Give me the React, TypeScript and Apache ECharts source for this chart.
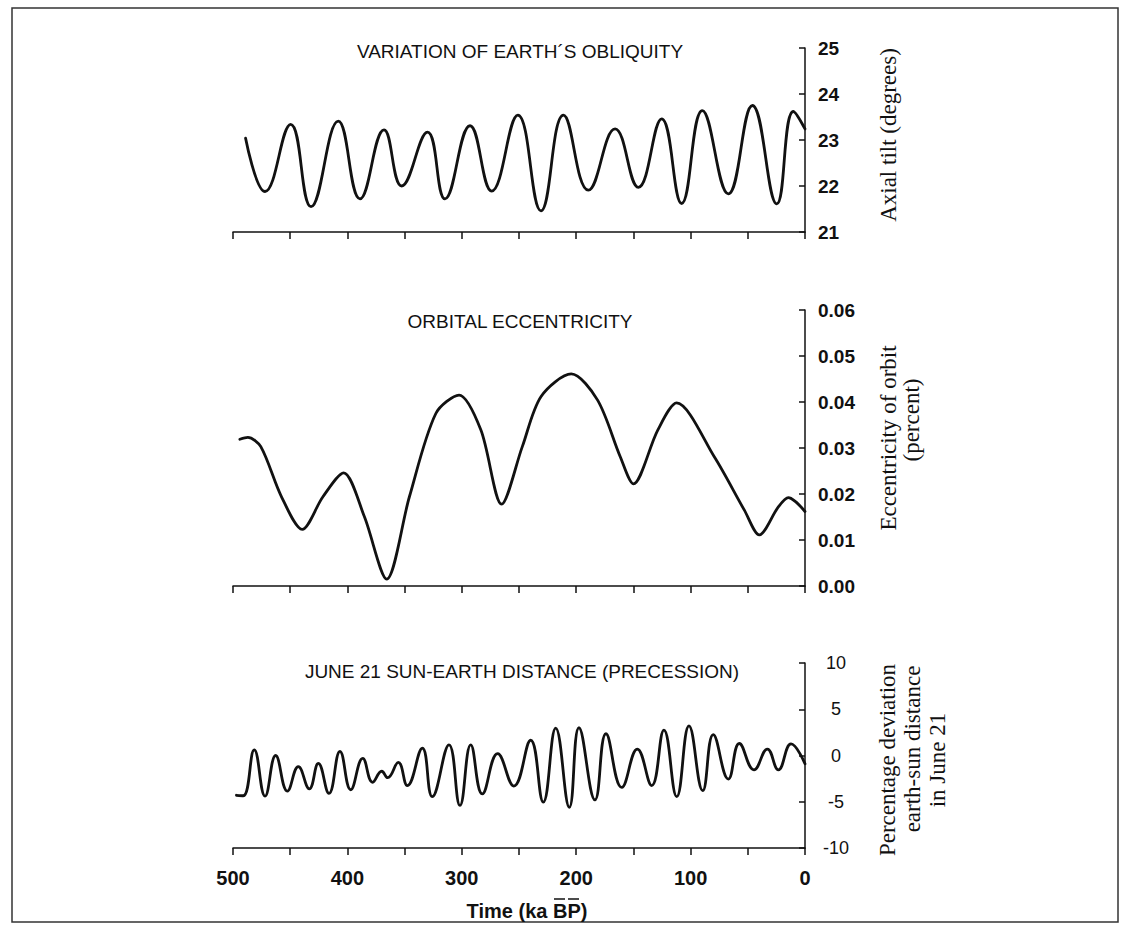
import React, { useEffect, useRef } from "react";
import * as echarts from "echarts";

// ---- data (ka BP, value) ----
const obliquity: [number, number][] = [
  [489, 23.04], [472, 21.88], [449.6, 23.34], [431.8, 21.55],
  [408, 23.41], [389, 21.72], [368, 23.22], [352.5, 22.0], [330, 23.17],
  [314.7, 21.72], [292.8, 23.31], [273.9, 21.89], [251, 23.54], [230.8, 21.46],
  [211.2, 23.54], [189.4, 21.91], [166, 23.24], [145.7, 21.97], [125.3, 23.46],
  [107.8, 21.62], [89.8, 23.64], [67, 21.83], [46, 23.75], [24.7, 21.61],
  [10.2, 23.62], [0, 23.24],
];

const eccentricity: [number, number][] = [
  [494, 0.0319], [487, 0.0323], [475.7, 0.0303], [457.6, 0.0194], [439.5, 0.0123],
  [421.4, 0.0194], [403.3, 0.0246], [385.2, 0.0151], [365.6, 0.0015], [345.8, 0.0194],
  [322.7, 0.0375], [302.4, 0.0415], [283.3, 0.0339], [265.2, 0.0178], [247.1, 0.0303],
  [230.7, 0.0412], [204.3, 0.0461], [181.3, 0.0404], [161.5, 0.0281], [150, 0.0222],
  [128.7, 0.0339], [112.2, 0.0398], [79.3, 0.0281], [53, 0.0165], [39.9, 0.0111],
  [23.3, 0.0172], [14.5, 0.0192], [0, 0.0162],
];

const precession: [number, number][] = [
  [497, -4.3], [491, -4.35], [481.4, 0.6], [472, -4.4], [462.7, 0.0], [452.5, -3.85],
  [442.9, -1.2], [433.3, -3.6], [425.4, -0.85], [416.1, -4.1], [406.5, 0.45],
  [397.1, -3.7], [386.6, -0.3], [377.9, -2.9], [370, -1.7], [364.8, -2.4],
  [355.5, -0.75], [347.6, -3.25], [334.5, 0.8], [325.8, -4.45], [311.2, 1.15],
  [301.6, -5.4], [292.2, 1.15], [282.1, -4.15], [268.7, 0.2], [254.5, -3.3],
  [239.8, 1.65], [228.8, -5.05], [217.9, 2.95], [206, -5.6], [197.6, 3.0],
  [183.6, -4.8], [174, 2.35], [160.2, -3.45], [146.6, 0.7], [134, -3.25],
  [123.3, 2.75], [112.1, -4.45], [101.4, 3.2], [89.4, -3.8], [80.2, 2.25],
  [67, -2.55], [57.4, 1.3], [44.6, -1.55], [32.9, 0.7], [23.3, -1.55],
  [12.2, 1.25], [0, -0.9],
];

const panelTitles = [
  "VARIATION OF EARTH\u00B4S OBLIQUITY",
  "ORBITAL ECCENTRICITY",
  "JUNE 21 SUN-EARTH DISTANCE (PRECESSION)",
];
const xTitle = "Time (ka BP)";
const yRanges = [
  { min: 21, max: 25, interval: 1 },
  { min: 0, max: 0.06, interval: 0.01 },
  { min: -10, max: 10, interval: 5 },
];

const SANS = "'Liberation Sans', Arial, Helvetica, sans-serif";
const SERIF = "'Liberation Serif', 'Times New Roman', serif";
const INK = "#111";

export default function App() {
  const ref = useRef<HTMLDivElement>(null);

  useEffect(() => {
    if (!ref.current) return;
    const chart = echarts.init(ref.current, undefined, { renderer: "svg" });

    const grids = [
      { left: 233, width: 572, top: 48, height: 184 },
      { left: 233, width: 572, top: 310, height: 276 },
      { left: 233, width: 572, top: 663, height: 185 },
    ];

    const xAxes = grids.map((_, i) => ({
      type: "value",
      gridIndex: i,
      min: 0,
      max: 500,
      interval: 50,
      inverse: true,
      axisLine: { show: true, onZero: false, lineStyle: { color: INK, width: 1.5 } },
      axisTick: { show: true, length: 7, lineStyle: { color: INK, width: 1.5 } },
      splitLine: { show: false },
      axisLabel: {
        show: i === 2,
        margin: 20,
        color: INK,
        fontFamily: SANS,
        fontWeight: "bold",
        fontSize: 20,
        formatter: (v: number) => (v % 100 === 0 ? String(v) : ""),
      },
    }));

    const yAxes = yRanges.map((r, i) => ({
      type: "value",
      gridIndex: i,
      position: "right",
      min: r.min,
      max: r.max,
      interval: r.interval,
      axisLine: { show: true, onZero: false, lineStyle: { color: INK, width: 1.5 } },
      axisTick: { show: true, inside: true, length: 6, lineStyle: { color: INK, width: 1.5 } },
      splitLine: { show: false },
      axisLabel: {
        color: INK,
        fontFamily: SANS,
        fontWeight: i === 2 ? "normal" : "bold",
        fontSize: i === 2 ? 18 : 19,
        margin: i === 2 ? 31 : 13,
        align: i === 2 ? "center" : "left",
        formatter: (v: number) => (i === 1 ? v.toFixed(2) : String(Math.round(v))),
      },
    }));

    const datasets = [obliquity, eccentricity, precession];
    const smoothness = [0.45, 0.3, 0.45];
    const series = datasets.map((d, i) => ({
      type: "line",
      xAxisIndex: i,
      yAxisIndex: i,
      data: d,
      smooth: smoothness[i],
      showSymbol: false,
      symbol: "none",
      clip: false,
      lineStyle: { color: INK, width: 2.8, cap: "round", join: "round" },
    }));

    const titleText = (text: string, x: number, y: number) => ({
      type: "text",
      x,
      y,
      style: {
        text,
        fill: INK,
        font: `19px ${SANS}`,
        textAlign: "center",
        textVerticalAlign: "middle",
      },
    });
    const vText = (text: string, x: number, y: number) => ({
      type: "text",
      x,
      y,
      rotation: Math.PI / 2,
      style: {
        text,
        fill: INK,
        font: `23px ${SERIF}`,
        textAlign: "center",
        textVerticalAlign: "middle",
      },
    });

    chart.setOption({
      animation: false,
      backgroundColor: "#fff",
      grid: grids,
      xAxis: xAxes,
      yAxis: yAxes,
      series,
      graphic: [
        {
          type: "rect",
          shape: { x: 12, y: 8, width: 1106, height: 914 },
          style: { fill: "none", stroke: "#333", lineWidth: 1.5 },
          silent: true,
        },
        titleText(panelTitles[0], 520, 51),
        titleText(panelTitles[1], 520, 321),
        titleText(panelTitles[2], 522, 671),
        vText("Axial tilt (degrees)", 888, 135),
        vText("Eccentricity of orbit", 888, 438),
        vText("(percent)", 911, 420),
        vText("Percentage deviation", 887, 760),
        vText("earth-sun distance", 912, 749),
        vText("in June 21", 937, 760),
        {
          type: "text",
          x: 527,
          y: 911,
          style: {
            text: xTitle,
            fill: INK,
            font: `bold 20px ${SANS}`,
            textAlign: "center",
            textVerticalAlign: "middle",
          },
        },
        {
          type: "line",
          shape: { x1: 554, y1: 899, x2: 565, y2: 899 },
          style: { stroke: INK, lineWidth: 1.5 },
        },
        {
          type: "line",
          shape: { x1: 568, y1: 899, x2: 579, y2: 899 },
          style: { stroke: INK, lineWidth: 1.5 },
        },
      ],
    });

    return () => chart.dispose();
  }, []);

  return (
    <div
      ref={ref}
      style={{ position: "absolute", left: 0, top: 0, width: 1131, height: 940, background: "#fff" }}
    />
  );
}
